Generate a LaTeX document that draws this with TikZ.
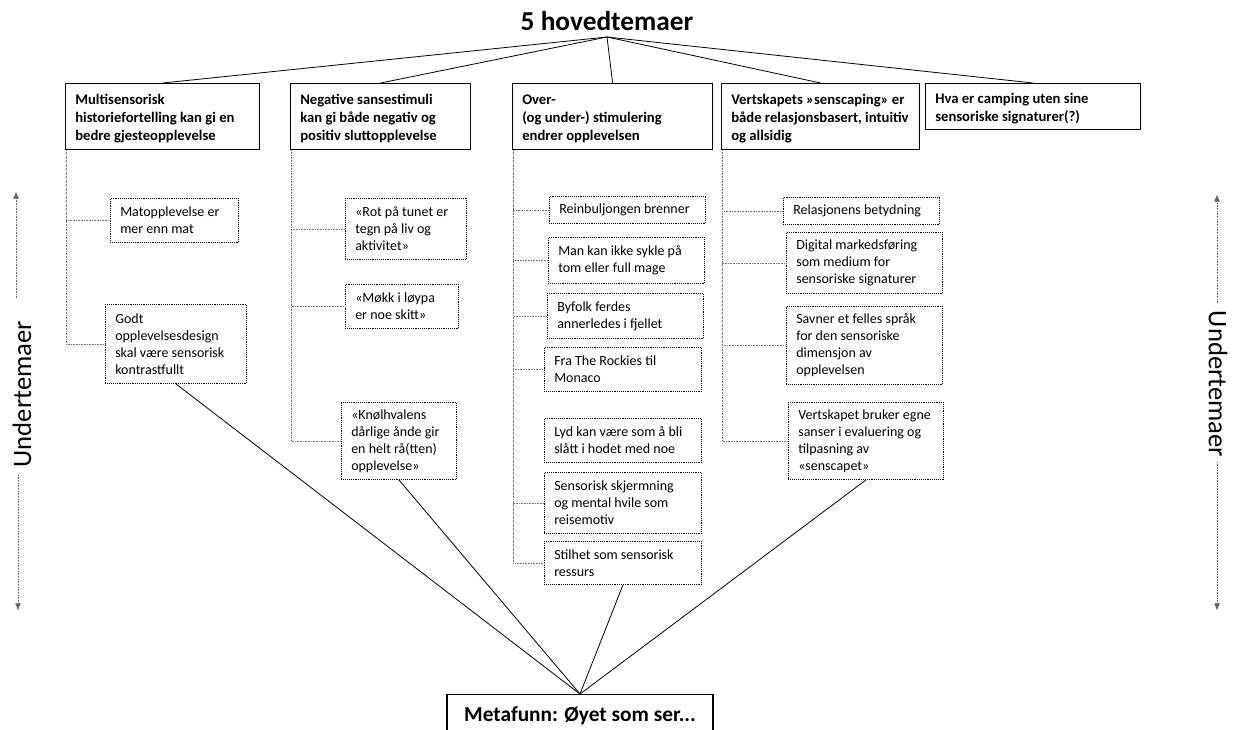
\documentclass[tikz,border=0pt]{standalone}
\usepackage{fontspec}
\setmainfont{Carlito}
\usetikzlibrary{arrows.meta}

% Box helpers: name, left x, top y, width, height (all in px), text
\newcommand\TopBox[6]{%
  \pgfmathsetmacro\bw{#4*0.75}\pgfmathsetmacro\bh{#5*0.75}%
  \node[topbox,anchor=north west,minimum width=\bw pt,minimum height=\bh pt] (#1) at (#2,#3) {};
  \node[toptext,anchor=west] (#1-txt) at ([xshift=7.5pt,yshift=-1.5pt]#1.west) {#6};}
\newcommand\SubBox[6]{%
  \pgfmathsetmacro\bw{#4*0.75}\pgfmathsetmacro\bh{#5*0.75}%
  \node[subbox,anchor=north west,minimum width=\bw pt,minimum height=\bh pt] (#1) at (#2,#3) {};
  \node[subtext,anchor=west] (#1-txt) at ([xshift=7.5pt]#1.west) {#6};}

\begin{document}
\begin{tikzpicture}[x=0.75pt,y=-0.75pt,
  topbox/.style={draw=black,line width=0.9pt,inner sep=0pt},
  subbox/.style={draw=black,line width=0.7pt,dash pattern=on 0.7pt off 0.7pt,inner sep=0pt},
  toptext/.style={inner sep=0pt,align=left,font=\fontsize{11pt}{13.5pt}\bfseries\selectfont},
  subtext/.style={inner sep=0pt,align=left,font=\fontsize{10.5pt}{12.8pt}\selectfont},
  spoke/.style={draw=black,line width=0.6pt},
  branch/.style={draw=black!55,line width=0.6pt,dash pattern=on 0.6pt off 0.6pt},
  sidelabel/.style={inner sep=0pt,font=\fontsize{20pt}{24pt}\selectfont},
  sidearrow/.style={draw=black!60,line width=0.6pt,dash pattern=on 0.6pt off 0.6pt,
    -{Triangle[length=5pt,width=4pt]}}
]
\path[fill=white,use as bounding box] (0,0) rectangle (1234,729);

% heading and the five main themes
\node[font=\fontsize{20.5pt}{24pt}\bfseries\selectfont,inner xsep=2pt,inner ysep=4.5pt,anchor=south]
  (title) at (607,37) {5 hovedtemaer};

\TopBox{t1}{65}{83}{194}{66}{Multisensorisk\\historiefortelling kan gi en\\bedre gjesteopplevelse}
\TopBox{t2}{290}{83}{180}{66}{Negative sansestimuli\\kan gi både negativ og\\positiv sluttopplevelse}
\TopBox{t3}{512}{83}{200}{66}{Over-\\(og under-) stimulering\\endrer opplevelsen}
\TopBox{t4}{721}{83}{198}{66}{Vertskapets »senscaping» er\\både relasjonsbasert, intuitiv\\og allsidig}
\TopBox{t5}{925}{83}{215}{46}{Hva er camping uten sine\\sensoriske signaturer(?)}

\foreach \t in {t1,t2,t3,t4,t5}
  \draw[spoke] (title.south) -- (\t.north);

% sub-themes
\SubBox{s11}{110}{198}{128}{44}{Matopplevelse er\\mer enn mat}
\SubBox{s12}{105}{304}{141}{79}{Godt\\opplevelsesdesign\\skal være sensorisk\\kontrastfullt}

\SubBox{s21}{345}{198}{121}{61}{«Rot på tunet er\\tegn på liv og\\aktivitet»}
\SubBox{s22}{345}{284}{113}{44}{«Møkk i løypa\\er noe skitt»}
\SubBox{s23}{341}{402}{115}{77}{«Knølhvalens\\dårlige ånde gir\\en helt rå(tten)\\opplevelse»}

\SubBox{s31}{549}{196}{156}{27}{Reinbuljongen brenner}
\SubBox{s32}{548}{237}{156}{46}{Man kan ikke sykle på\\tom eller full mage}
\SubBox{s33}{547}{293}{156}{45}{Byfolk ferdes\\annerledes i fjellet}
\SubBox{s34}{544}{347}{157}{44}{Fra The Rockies til\\Monaco}
\SubBox{s35}{544}{418}{157}{44}{Lyd kan være som å bli\\slått i hodet med noe}
\SubBox{s36}{544}{472}{157}{61}{Sensorisk skjermning\\og mental hvile som\\reisemotiv}
\SubBox{s37}{544}{541}{157}{43}{Stilhet som sensorisk\\ressurs}

\SubBox{s41}{783}{197}{156}{27}{Relasjonens betydning}
\SubBox{s42}{786}{232}{156}{61}{Digital markedsføring\\som medium for\\sensoriske signaturer}
\SubBox{s43}{786}{306}{156}{78}{Savner et felles språk\\for den sensoriske\\dimensjon av\\opplevelsen}
\SubBox{s44}{788}{402}{155}{77}{Vertskapet bruker egne\\sanser i evaluering og\\tilpasning av\\«senscapet»}

% elbow links from each main theme down to its sub-themes
\foreach \t/\s in {t1/s11,t1/s12,t2/s21,t2/s22,t2/s23,
                   t3/s31,t3/s32,t3/s33,t3/s34,t3/s36,t3/s37,
                   t4/s41,t4/s42,t4/s43,t4/s44}
  \draw[branch] ([xshift=1pt]\t.south west) |- (\s.west);

% meta finding
\node[topbox,anchor=north,minimum width=199.5pt,minimum height=31.5pt,
  font=\fontsize{16pt}{19pt}\bfseries\selectfont] (meta) at (580,694) {Metafunn: Øyet som ser...};

\foreach \s in {s12,s23,s37,s44}
  \draw[spoke] (\s.south) -- (meta.north);

% side labels with arrows
\node[sidelabel,rotate=90] (uL) at (22,394) {Undertemaer};
\node[sidelabel,rotate=-90] (uR) at (1218,384) {Undertemaer};
\coordinate (uL-a) at (16,298);  \coordinate (uL-b) at (16,192);
\coordinate (uL-c) at (18,475);  \coordinate (uL-d) at (18,610);
\coordinate (uR-a) at (1217,303); \coordinate (uR-b) at (1217,195);
\coordinate (uR-c) at (1217,462); \coordinate (uR-d) at (1217,610);
\draw[sidearrow] (uL-a) -- (uL-b);
\draw[sidearrow] (uL-c) -- (uL-d);
\draw[sidearrow] (uR-a) -- (uR-b);
\draw[sidearrow] (uR-c) -- (uR-d);
\end{tikzpicture}
\end{document}
